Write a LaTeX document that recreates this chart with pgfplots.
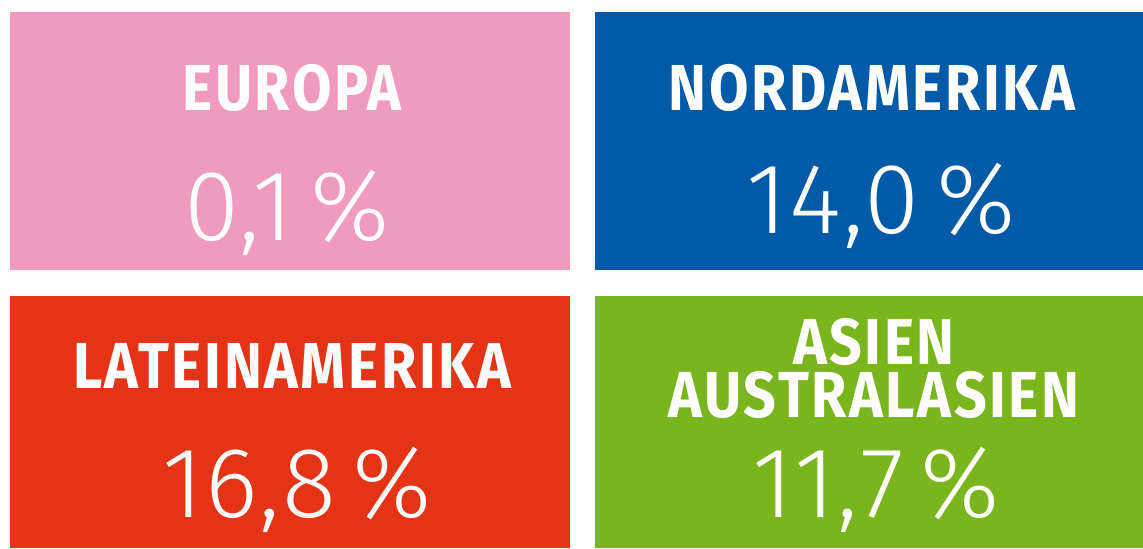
\documentclass[border=0pt]{standalone}
\usepackage{fontspec}
\usepackage{pgfplots}
\pgfplotsset{compat=1.18}
\setmainfont{Fira Sans}
\newfontfamily\titlefont[LetterSpace=4,FakeStretch=0.88]{Fira Sans Bold}
\newfontfamily\numfont[LetterSpace=2]{Fira Sans Light}
\definecolor{cpink}{HTML}{F09BBE}
\definecolor{cblue}{HTML}{005AA7}
\definecolor{cred}{HTML}{E43415}
\definecolor{cgreen}{HTML}{7AB51D}
\tikzset{
  tfont/.style={font=\titlefont\fontsize{32.5}{26.5}\selectfont,text=white,anchor=base,inner sep=0pt},
  nfont/.style={font=\numfont\fontsize{50}{52}\selectfont,text=white,anchor=base,inner sep=0pt}}
\begin{document}
\begin{tikzpicture}
\begin{axis}[x=0.5pt,y=0.5pt,y dir=reverse,xmin=0,xmax=1143,ymin=0,ymax=548,
  hide axis,clip=false]
\addplot[draw=none,forget plot] coordinates {(0,0)(1143,548)};
\addplot[fill=cpink,draw=none] coordinates {(10,12)(570,12)(570,270)(10,270)} --cycle;
\addplot[fill=cblue,draw=none] coordinates {(595,12)(1143,12)(1143,270)(595,270)} --cycle;
\addplot[fill=cred,draw=none] coordinates {(10,296)(570,296)(570,548)(10,548)} --cycle;
\addplot[fill=cgreen,draw=none] coordinates {(595,296)(1143,296)(1143,548)(595,548)} --cycle;
\node[tfont] at (axis cs:292,110) {EUROPA};
\node[tfont] at (axis cs:872,110) {NORDAMERIKA};
\node[tfont] at (axis cs:292,388) {LATEINAMERIKA};
\node[tfont,align=center] at (axis cs:874,417) {ASIEN\\AUSTRALASIEN};
\node[nfont] at (axis cs:287,240) {0,1\,\%};
\node[nfont] at (axis cs:881,233) {14,0\,\%};
\node[nfont] at (axis cs:297,517) {16,8\,\%};
\node[nfont] at (axis cs:876,517) {11,7\,\%};
\end{axis}
\end{tikzpicture}
\end{document}
